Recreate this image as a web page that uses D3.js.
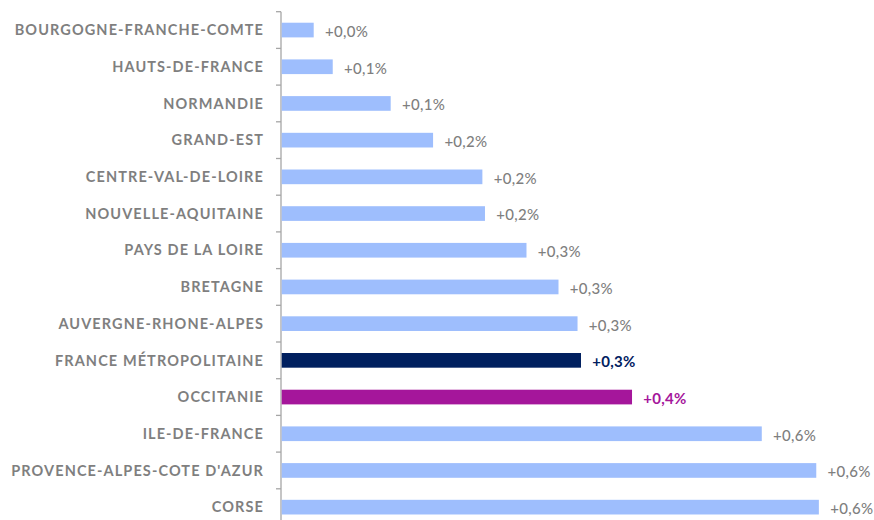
<!DOCTYPE html>
<html>
<head>
<meta charset="utf-8">
<script src="https://cdn.jsdelivr.net/npm/d3@7"></script>
<style>
  body { margin: 0; background: #fff; }
  svg { display: block; }
</style>
</head>
<body>
<script>
// regions, top to bottom
var regions = ["BOURGOGNE-FRANCHE-COMTE", "HAUTS-DE-FRANCE", "NORMANDIE", "GRAND-EST",
  "CENTRE-VAL-DE-LOIRE", "NOUVELLE-AQUITAINE", "PAYS DE LA LOIRE", "BRETAGNE",
  "AUVERGNE-RHONE-ALPES", "FRANCE MÉTROPOLITAINE", "OCCITANIE", "ILE-DE-FRANCE",
  "PROVENCE-ALPES-COTE D'AZUR", "CORSE"];
// evolution (%)
var values = [0.037, 0.059, 0.126, 0.175, 0.232, 0.235, 0.283, 0.320, 0.342, 0.346, 0.405, 0.555, 0.618, 0.621];
var labels = ["+0,0%", "+0,1%", "+0,1%", "+0,2%", "+0,2%", "+0,2%", "+0,3%", "+0,3%",
  "+0,3%", "+0,3%", "+0,4%", "+0,6%", "+0,6%", "+0,6%"];

var data = regions.map(function(r, i) { return { name: r, value: values[i], label: labels[i] } });

var colorOf = function(name) {
  if (name == "FRANCE MÉTROPOLITAINE") return "#00205f";
  if (name == "OCCITANIE") return "#a5169b";
  return "#9ebefd";
}
var textColorOf = function(name) {
  if (name == "FRANCE MÉTROPOLITAINE") return "#00205f";
  if (name == "OCCITANIE") return "#a5169b";
  return "#7f7f7f";
}

var svg = d3.select("body").append("svg")
  .attr("width", 874)
  .attr("height", 520);

var x0 = 281;
var x = d3.scaleLinear().domain([0, 0.7]).range([x0, x0 + 0.7 * 865]);
var y = d3.scaleBand().domain(regions).range([11.7, 525.5]).paddingInner(0.6).paddingOuter(0.3);

// axis line + ticks between categories
var step = y.step();
svg.append("line")
  .attr("x1", x0).attr("x2", x0)
  .attr("y1", 11.7).attr("y2", 525.5)
  .attr("stroke", "#a6a6a6").attr("stroke-width", 1.3);
svg.selectAll(".tick").data(d3.range(regions.length + 1))
  .enter().append("line")
  .attr("x1", x0 - 5).attr("x2", x0)
  .attr("y1", function(d) { return 11.7 + d * step })
  .attr("y2", function(d) { return 11.7 + d * step })
  .attr("stroke", "#a6a6a6").attr("stroke-width", 1.3);

svg.selectAll(".bar").data(data)
  .enter().append("rect")
  .attr("x", x(0) + 0.7)
  .attr("y", function(d) { return y(d.name) })
  .attr("width", function(d) { return x(d.value) - x(0) })
  .attr("height", y.bandwidth())
  .attr("fill", function(d) { return colorOf(d.name) });

svg.selectAll(".cat").data(data)
  .enter().append("text")
  .attr("x", 264)
  .attr("y", function(d) { return y(d.name) + y.bandwidth() / 2 })
  .attr("dy", "0.36em")
  .attr("text-anchor", "end")
  .attr("font-family", "Lato, sans-serif")
  .attr("font-weight", 700)
  .attr("font-size", 14.5)
  .attr("letter-spacing", 1.1)
  .attr("fill", "#7f7f7f")
  .text(function(d) { return d.name });

svg.selectAll(".val").data(data)
  .enter().append("text")
  .attr("x", function(d) { return x(d.value) + 12 })
  .attr("y", function(d) { return y(d.name) + y.bandwidth() / 2 + 1.5 })
  .attr("dy", "0.36em")
  .attr("font-family", "Lato, sans-serif")
  .attr("font-weight", function(d) { return textColorOf(d.name) == "#7f7f7f" ? 500 : 700 })
  .attr("font-size", 15)
  .attr("letter-spacing", 0.3)
  .attr("fill", function(d) { return textColorOf(d.name) })
  .text(function(d) { return d.label });
</script>
</body>
</html>
